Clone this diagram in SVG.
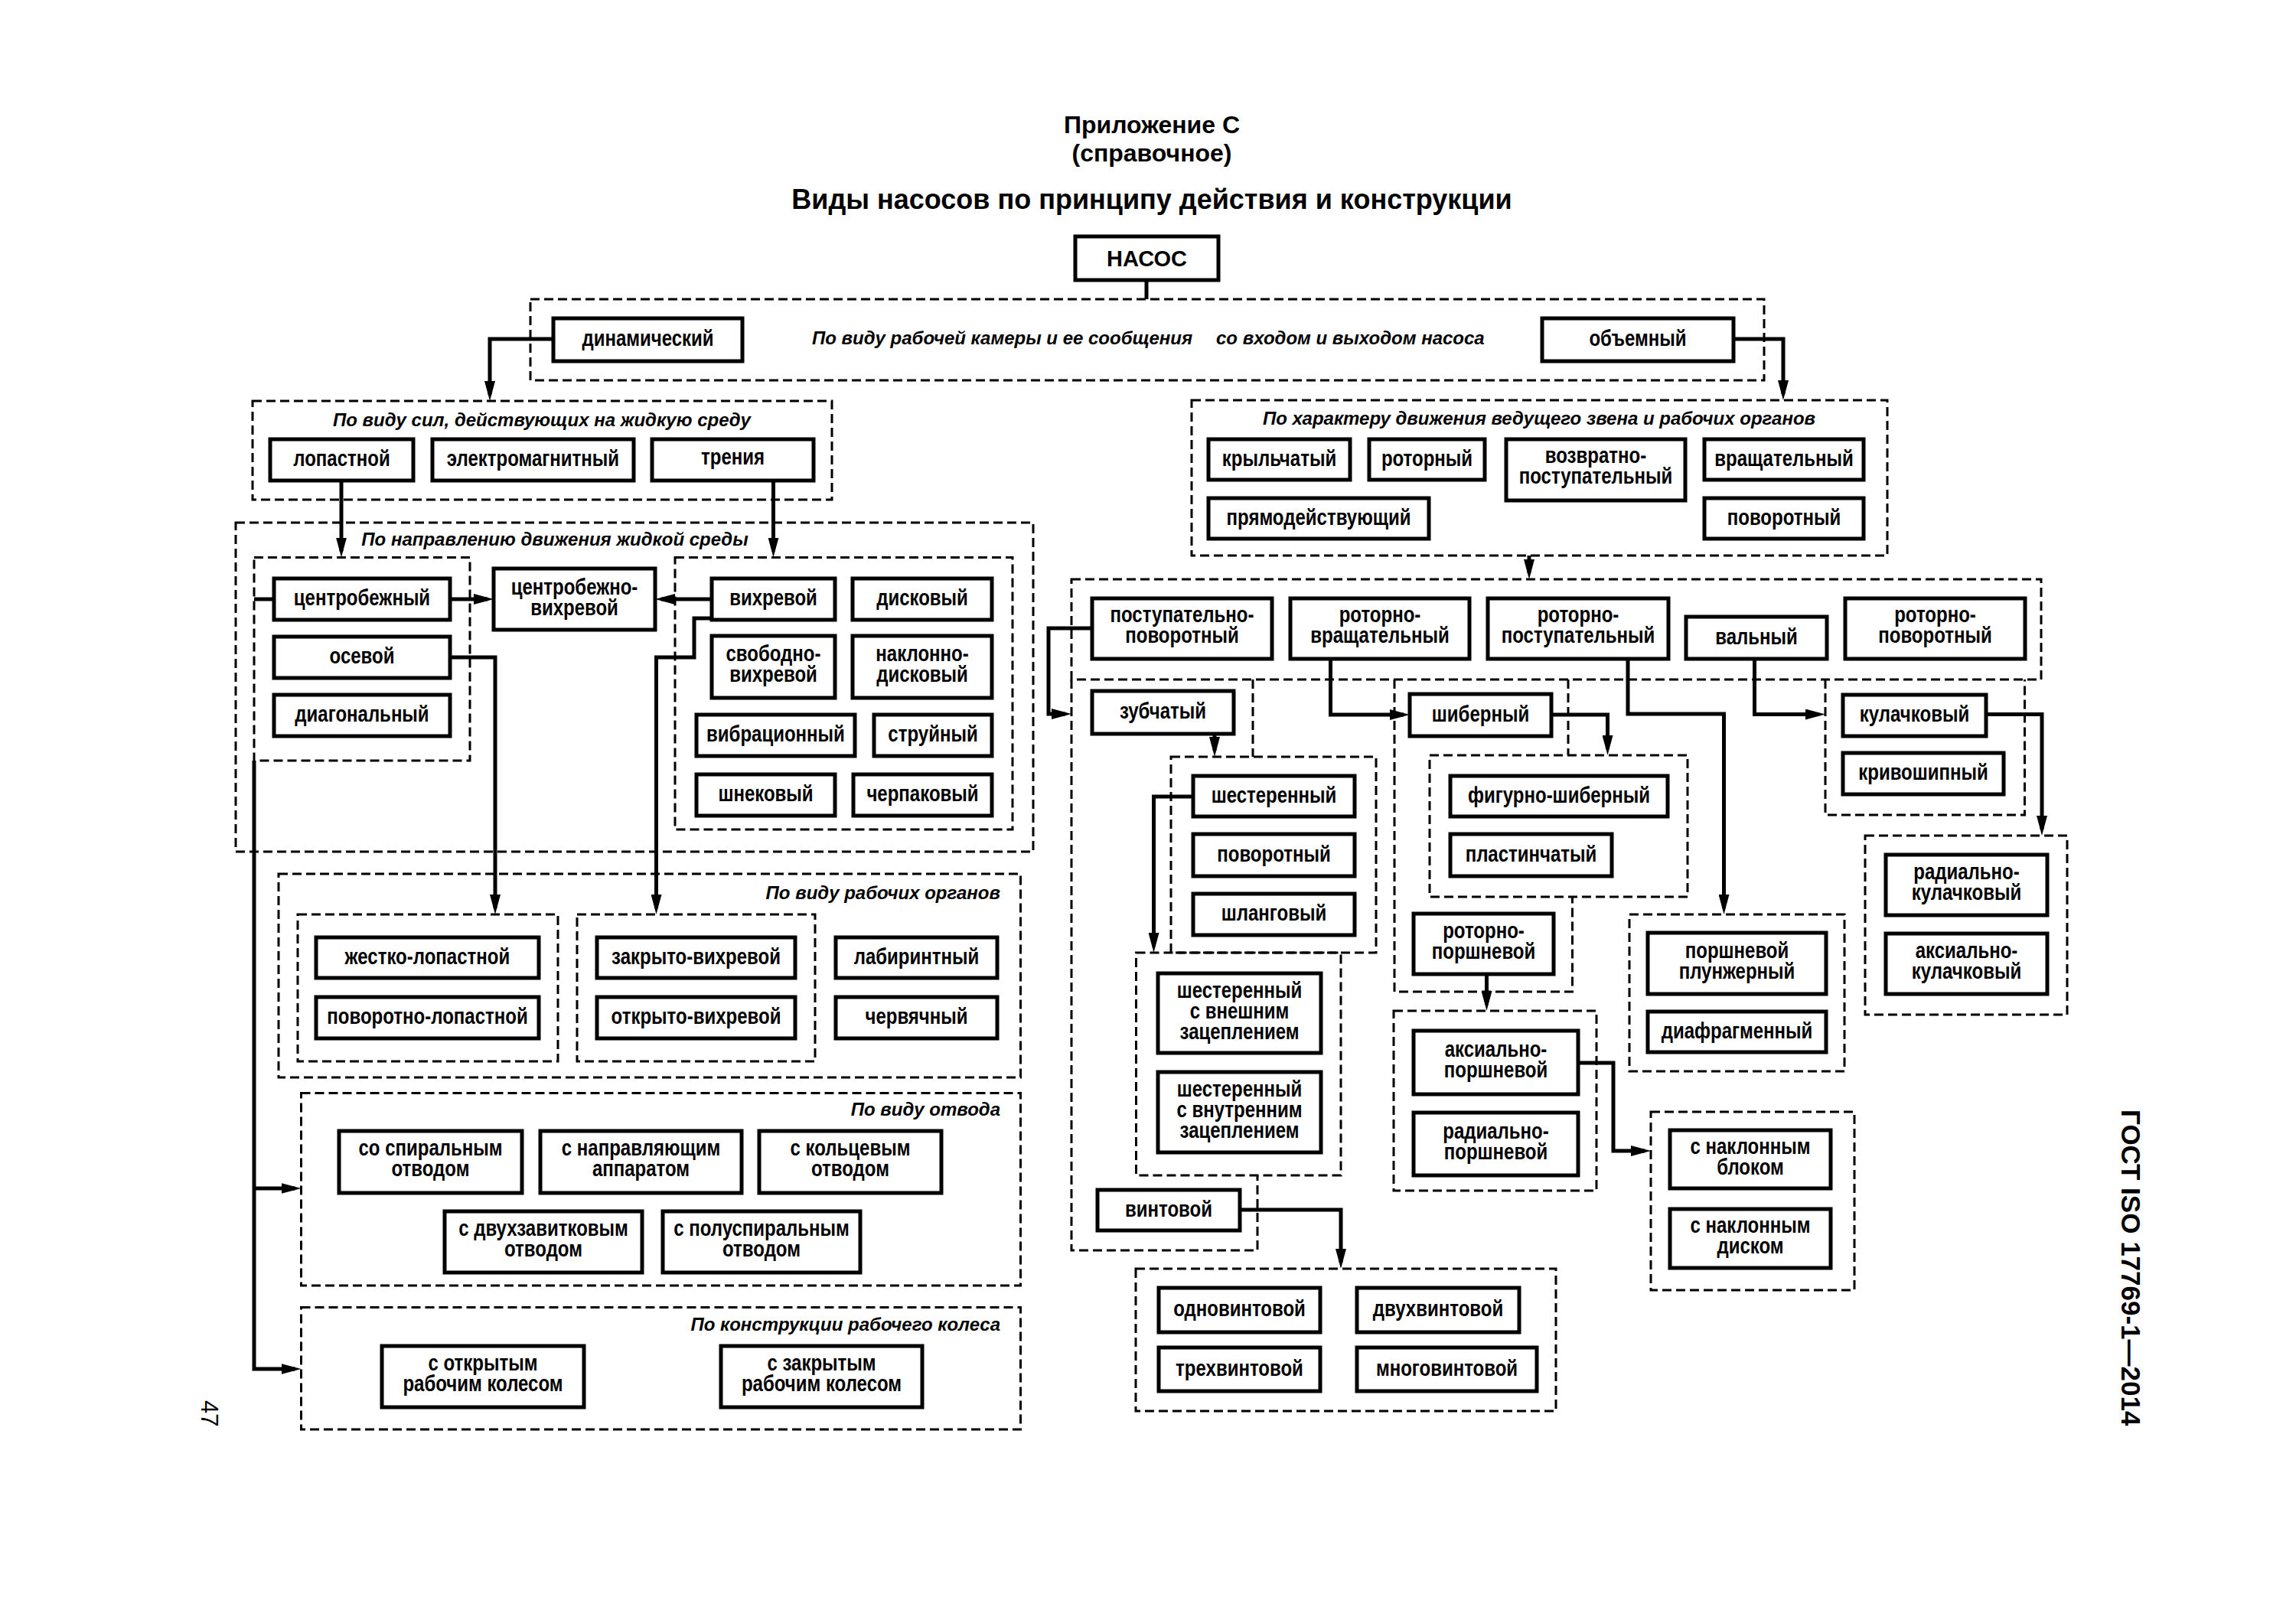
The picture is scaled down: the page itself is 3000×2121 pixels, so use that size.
<svg xmlns="http://www.w3.org/2000/svg" width="3000" height="2121" viewBox="0 0 3000 2121">
<defs>
<marker id="ah" markerUnits="userSpaceOnUse" markerWidth="26" markerHeight="14" refX="18" refY="7" orient="auto" viewBox="0 0 26 14"><path d="M0,0 L26,7 L0,14 z" fill="#000"/></marker>
<style>
.box{fill:#fff;stroke:#000;stroke-width:5}
.grp{fill:none;stroke:#000;stroke-width:3;stroke-dasharray:12 6}
.con{fill:none;stroke:#000;stroke-width:5}
.arr{marker-end:url(#ah)}
text{font-family:"Liberation Sans",Arial,Helvetica,sans-serif;font-weight:bold;fill:#000}
.t{font-size:29px;text-anchor:middle;transform:scaleX(0.828);transform-box:fill-box;transform-origin:center}
.nasos{font-size:29px;text-anchor:middle}
.lbl{font-size:24px;font-style:italic}
.mid{text-anchor:middle}
.end{text-anchor:end}
.ttl{text-anchor:middle}
.pg{font-size:31px;font-weight:normal}
</style>
</defs>
<rect width="3000" height="2121" fill="#fff"/>

<g id="titles">
<text class="ttl" x="1505" y="174" font-size="32">Приложение С</text>
<text class="ttl" x="1505" y="211" font-size="32">(справочное)</text>
<text class="ttl" x="1505" y="273" font-size="36">Виды насосов по принципу действия и конструкции</text>
<text transform="translate(2772,1450) rotate(90)" font-size="35">ГОСТ ISO 17769-1—2014</text>
<text class="pg" transform="translate(263,1830) rotate(90)">47</text>
</g>

<g id="groups">
<g id="g-kamera"><rect class="grp" x="693" y="391" width="1612" height="106"/>
<text class="lbl" x="1061" y="450">По виду рабочей камеры и ее сообщения</text>
<text class="lbl" x="1589" y="450">со входом и выходом насоса</text></g>
<g id="g-sily"><rect class="grp" x="330" y="524" width="757" height="129"/>
<text class="lbl mid" x="708" y="557">По виду сил, действующих на жидкую среду</text></g>
<g id="g-napr"><rect class="grp" x="308" y="683" width="1042" height="430"/>
<text class="lbl mid" x="725" y="713">По направлению движения жидкой среды</text></g>
<rect id="g-c1" class="grp" x="332" y="728.5" width="282" height="265.5"/>
<rect id="g-c2" class="grp" x="882" y="728.5" width="441" height="355.5"/>
<g id="g-organy"><rect class="grp" x="364" y="1142" width="969.5" height="266"/>
<text class="lbl end" x="1307" y="1175">По виду рабочих органов</text></g>
<rect id="g-e1" class="grp" x="389" y="1195" width="340" height="192"/>
<rect id="g-e2" class="grp" x="754" y="1195" width="311" height="192"/>
<g id="g-otvod"><rect class="grp" x="393.5" y="1428.5" width="940" height="251.5"/>
<text class="lbl end" x="1307" y="1458">По виду отвода</text></g>
<g id="g-koleso"><rect class="grp" x="393.5" y="1708.5" width="940" height="159.5"/>
<text class="lbl end" x="1307" y="1739">По конструкции рабочего колеса</text></g>
<g id="g-harakter"><rect class="grp" x="1557" y="523" width="909" height="203"/>
<text class="lbl mid" x="2011" y="555">По характеру движения ведущего звена и рабочих органов</text></g>
<rect id="g-j" class="grp" x="1400" y="757" width="1267" height="131"/>
<path id="g-k" class="grp" d="M1400,888 V1634 H1643 V1536 M1637,888 V989"/>
<rect id="g-l1" class="grp" x="1530" y="989" width="268" height="256"/>
<rect id="g-l2" class="grp" x="1484.5" y="1245" width="267.5" height="291"/>
<rect id="g-m" class="grp" x="1484" y="1658" width="549" height="186"/>
<path id="g-n" class="grp" d="M1822,888 V1296 H2054.5 V1172 M2049,888 V987"/>
<rect id="g-o" class="grp" x="1868" y="987" width="337" height="185"/>
<rect id="g-p" class="grp" x="1821" y="1321" width="265" height="235"/>
<rect id="g-q" class="grp" x="2157" y="1453" width="266" height="233"/>
<rect id="g-r" class="grp" x="2129" y="1195" width="281" height="205"/>
<path id="g-s" class="grp" d="M2385,888 V1065 H2645.5 V888"/>
<rect id="g-t" class="grp" x="2437" y="1092" width="264" height="234"/>
</g>

<g id="connectors">
<path class="con" d="M1498,366 V391"/>
<path class="con arr" d="M723,443 H640 V516"/>
<path class="con arr" d="M2265,443 H2330 V515"/>
<path class="con arr" d="M446,628 V720.5"/>
<path class="con arr" d="M1010.5,628 V720.5"/>
<path class="con arr" d="M588,783 H637"/>
<path class="con arr" d="M930,783 H864"/>
<path class="con" d="M358,783 H332"/>
<path class="con arr" d="M332,994 V1789 H385.5"/>
<path class="con arr" d="M332,1553 H385.5"/>
<path class="con arr" d="M588,859 H647 V1187"/>
<path class="con arr" d="M930,808 H907 V859 H857.5 V1187"/>
<path class="con arr" d="M1998,726 V749"/>
<path class="con arr" d="M1427,821 H1370 V933 H1392"/>
<path class="con arr" d="M1587,959 V981"/>
<path class="con arr" d="M1559,1041 H1507.5 V1237"/>
<path class="con arr" d="M1620,1581 H1752 V1650"/>
<path class="con arr" d="M1738.5,861 V934 H1834"/>
<path class="con arr" d="M2027,934 H2100.5 V979"/>
<path class="con arr" d="M1942.5,1273 V1313"/>
<path class="con arr" d="M2062,1389 H2108 V1504 H2149"/>
<path class="con arr" d="M2127,861 V933 H2252.5 V1187"/>
<path class="con arr" d="M2292.5,861 V933.5 H2377"/>
<path class="con arr" d="M2595,933.5 H2668 V1084"/>
</g>

<g id="nodes">
<g id="n-nasos"><rect class="box" x="1405" y="309" width="187" height="57"/><text class="nasos" x="1498.5" y="348">НАСОС</text></g>
<g id="n-dyn"><rect class="box" x="723" y="416" width="247" height="56"/><text class="t" x="846.5" y="452.5">динамический</text></g>
<g id="n-obem"><rect class="box" x="2015" y="416" width="250" height="56"/><text class="t" x="2140" y="452.5">объемный</text></g>

<g id="n-lopast"><rect class="box" x="353" y="574" width="187" height="54"/><text class="t" x="446.5" y="609.5">лопастной</text></g>
<g id="n-elmag"><rect class="box" x="565" y="574" width="263" height="54"/><text class="t" x="696.5" y="609.5">электромагнитный</text></g>
<g id="n-trenia"><rect class="box" x="852" y="574" width="211" height="54"/><text class="t" x="957.5" y="607">трения</text></g>

<g id="n-centrob"><rect class="box" x="358" y="756" width="230" height="54"/><text class="t" x="473" y="791.5">центробежный</text></g>
<g id="n-osevoy"><rect class="box" x="358" y="832" width="230" height="54"/><text class="t" x="473" y="867.5">осевой</text></g>
<g id="n-diag"><rect class="box" x="358" y="908" width="230" height="54"/><text class="t" x="473" y="943.5">диагональный</text></g>
<g id="n-cv"><rect class="box" x="645" y="743" width="211" height="80"/><text class="t" x="750.5" y="777">центробежно-</text><text class="t" x="750.5" y="804">вихревой</text></g>

<g id="n-vihr"><rect class="box" x="930" y="756" width="161" height="54"/><text class="t" x="1010.5" y="791.5">вихревой</text></g>
<g id="n-disk"><rect class="box" x="1114" y="756" width="182" height="54"/><text class="t" x="1205" y="791.5">дисковый</text></g>
<g id="n-svob"><rect class="box" x="930" y="831" width="161" height="81"/><text class="t" x="1010.5" y="864.5">свободно-</text><text class="t" x="1010.5" y="891.5">вихревой</text></g>
<g id="n-naklon"><rect class="box" x="1114" y="831" width="182" height="81"/><text class="t" x="1205" y="864.5">наклонно-</text><text class="t" x="1205" y="891.5">дисковый</text></g>
<g id="n-vibr"><rect class="box" x="910" y="934" width="207" height="54"/><text class="t" x="1013.5" y="969.5">вибрационный</text></g>
<g id="n-struy"><rect class="box" x="1142" y="934" width="154" height="54"/><text class="t" x="1219" y="969.5">струйный</text></g>
<g id="n-shnek"><rect class="box" x="910" y="1012" width="181" height="54"/><text class="t" x="1000.5" y="1047.5">шнековый</text></g>
<g id="n-cherp"><rect class="box" x="1115" y="1012" width="181" height="54"/><text class="t" x="1205.5" y="1047.5">черпаковый</text></g>

<g id="n-zhest"><rect class="box" x="413" y="1225" width="291" height="53"/><text class="t" x="558.5" y="1260">жестко-лопастной</text></g>
<g id="n-povlop"><rect class="box" x="413" y="1303" width="291" height="54"/><text class="t" x="558.5" y="1338.5">поворотно-лопастной</text></g>
<g id="n-zakr"><rect class="box" x="780" y="1225" width="259" height="53"/><text class="t" x="909.5" y="1260">закрыто-вихревой</text></g>
<g id="n-otkr"><rect class="box" x="780" y="1303" width="259" height="54"/><text class="t" x="909.5" y="1338.5">открыто-вихревой</text></g>
<g id="n-labir"><rect class="box" x="1092" y="1225" width="211" height="53"/><text class="t" x="1197.5" y="1260">лабиринтный</text></g>
<g id="n-cherv"><rect class="box" x="1092" y="1303" width="211" height="54"/><text class="t" x="1197.5" y="1338.5">червячный</text></g>

<g id="n-spir"><rect class="box" x="443" y="1478" width="239" height="81"/><text class="t" x="562.5" y="1510">со спиральным</text><text class="t" x="562.5" y="1537">отводом</text></g>
<g id="n-napr"><rect class="box" x="706" y="1478" width="263" height="81"/><text class="t" x="837.5" y="1510">с направляющим</text><text class="t" x="837.5" y="1537">аппаратом</text></g>
<g id="n-kolc"><rect class="box" x="992" y="1478" width="238" height="81"/><text class="t" x="1111" y="1510">с кольцевым</text><text class="t" x="1111" y="1537">отводом</text></g>
<g id="n-dvuh"><rect class="box" x="581" y="1583" width="258" height="80"/><text class="t" x="710" y="1615">с двухзавитковым</text><text class="t" x="710" y="1642">отводом</text></g>
<g id="n-polu"><rect class="box" x="866" y="1583" width="258" height="80"/><text class="t" x="995" y="1615">с полуспиральным</text><text class="t" x="995" y="1642">отводом</text></g>

<g id="n-otkrkol"><rect class="box" x="499" y="1759" width="264" height="80"/><text class="t" x="631" y="1791">с открытым</text><text class="t" x="631" y="1818">рабочим колесом</text></g>
<g id="n-zakrkol"><rect class="box" x="942" y="1759" width="263" height="80"/><text class="t" x="1073.5" y="1791">с закрытым</text><text class="t" x="1073.5" y="1818">рабочим колесом</text></g>

<g id="n-krylch"><rect class="box" x="1579" y="574" width="185" height="53"/><text class="t" x="1671.5" y="609">крыльчатый</text></g>
<g id="n-rotor"><rect class="box" x="1789" y="574" width="151" height="53"/><text class="t" x="1864.5" y="609">роторный</text></g>
<g id="n-vozvr"><rect class="box" x="1968" y="574" width="234" height="80"/><text class="t" x="2085" y="605">возвратно-</text><text class="t" x="2085" y="632">поступательный</text></g>
<g id="n-vrasch"><rect class="box" x="2227" y="574" width="208" height="53"/><text class="t" x="2331" y="609">вращательный</text></g>
<g id="n-pryamo"><rect class="box" x="1579" y="651" width="288" height="53"/><text class="t" x="1723" y="686">прямодействующий</text></g>
<g id="n-povor"><rect class="box" x="2227" y="651" width="208" height="53"/><text class="t" x="2331" y="686">поворотный</text></g>

<g id="n-postpov"><rect class="box" x="1427" y="782" width="235" height="79"/><text class="t" x="1544.5" y="813">поступательно-</text><text class="t" x="1544.5" y="840">поворотный</text></g>
<g id="n-rotvr"><rect class="box" x="1686" y="782" width="234" height="79"/><text class="t" x="1803" y="813">роторно-</text><text class="t" x="1803" y="840">вращательный</text></g>
<g id="n-rotpost"><rect class="box" x="1944" y="782" width="236" height="79"/><text class="t" x="2062" y="813">роторно-</text><text class="t" x="2062" y="840">поступательный</text></g>
<g id="n-valny"><rect class="box" x="2203" y="806" width="184" height="55"/><text class="t" x="2295" y="842">вальный</text></g>
<g id="n-rotpov"><rect class="box" x="2411" y="782" width="235" height="79"/><text class="t" x="2528.5" y="813">роторно-</text><text class="t" x="2528.5" y="840">поворотный</text></g>

<g id="n-zubch"><rect class="box" x="1427" y="903" width="185" height="56"/><text class="t" x="1519.5" y="939.5">зубчатый</text></g>
<g id="n-shest"><rect class="box" x="1559" y="1014" width="211" height="53"/><text class="t" x="1664.5" y="1049">шестеренный</text></g>
<g id="n-povor2"><rect class="box" x="1559" y="1090" width="211" height="55"/><text class="t" x="1664.5" y="1126">поворотный</text></g>
<g id="n-shlang"><rect class="box" x="1559" y="1168" width="211" height="54"/><text class="t" x="1664.5" y="1203.5">шланговый</text></g>
<g id="n-vnesh"><rect class="box" x="1513" y="1272" width="213" height="104"/><text class="t" x="1619.5" y="1304">шестеренный</text><text class="t" x="1619.5" y="1331">с внешним</text><text class="t" x="1619.5" y="1358">зацеплением</text></g>
<g id="n-vnutr"><rect class="box" x="1513" y="1401" width="213" height="105"/><text class="t" x="1619.5" y="1433.5">шестеренный</text><text class="t" x="1619.5" y="1460.5">с внутренним</text><text class="t" x="1619.5" y="1487.5">зацеплением</text></g>
<g id="n-vint"><rect class="box" x="1434" y="1555" width="186" height="53"/><text class="t" x="1527" y="1590">винтовой</text></g>
<g id="n-odno"><rect class="box" x="1514" y="1683" width="211" height="58"/><text class="t" x="1619.5" y="1720.5">одновинтовой</text></g>
<g id="n-dvuhv"><rect class="box" x="1773" y="1683" width="212" height="58"/><text class="t" x="1879" y="1720.5">двухвинтовой</text></g>
<g id="n-trehv"><rect class="box" x="1514" y="1761" width="211" height="57"/><text class="t" x="1619.5" y="1798">трехвинтовой</text></g>
<g id="n-mnogo"><rect class="box" x="1773" y="1761" width="235" height="57"/><text class="t" x="1890.5" y="1798">многовинтовой</text></g>

<g id="n-shiber"><rect class="box" x="1842" y="907" width="185" height="55"/><text class="t" x="1934.5" y="943">шиберный</text></g>
<g id="n-figur"><rect class="box" x="1895" y="1014" width="284" height="53"/><text class="t" x="2037" y="1049">фигурно-шиберный</text></g>
<g id="n-plast"><rect class="box" x="1895" y="1090" width="211" height="55"/><text class="t" x="2000.5" y="1126">пластинчатый</text></g>
<g id="n-rotporsh"><rect class="box" x="1847" y="1194" width="183" height="79"/><text class="t" x="1938.5" y="1226.5">роторно-</text><text class="t" x="1938.5" y="1253.5">поршневой</text></g>
<g id="n-aksporsh"><rect class="box" x="1847" y="1347" width="215" height="83"/><text class="t" x="1954.5" y="1381.5">аксиально-</text><text class="t" x="1954.5" y="1408.5">поршневой</text></g>
<g id="n-radporsh"><rect class="box" x="1847" y="1454" width="215" height="82"/><text class="t" x="1954.5" y="1488">радиально-</text><text class="t" x="1954.5" y="1515">поршневой</text></g>
<g id="n-blok"><rect class="box" x="2182" y="1477" width="210" height="76"/><text class="t" x="2287" y="1508">с наклонным</text><text class="t" x="2287" y="1535">блоком</text></g>
<g id="n-diskq"><rect class="box" x="2182" y="1580" width="210" height="77"/><text class="t" x="2287" y="1611.5">с наклонным</text><text class="t" x="2287" y="1638.5">диском</text></g>
<g id="n-plunzh"><rect class="box" x="2153" y="1219" width="233" height="80"/><text class="t" x="2269.5" y="1252">поршневой</text><text class="t" x="2269.5" y="1279">плунжерный</text></g>
<g id="n-diafr"><rect class="box" x="2153" y="1322" width="233" height="53"/><text class="t" x="2269.5" y="1357.5">диафрагменный</text></g>
<g id="n-kulach"><rect class="box" x="2408" y="908" width="187" height="54"/><text class="t" x="2501.5" y="943.5">кулачковый</text></g>
<g id="n-krivosh"><rect class="box" x="2408" y="984" width="210" height="54"/><text class="t" x="2513" y="1019.5">кривошипный</text></g>
<g id="n-radkul"><rect class="box" x="2464" y="1117" width="211" height="79"/><text class="t" x="2569.5" y="1149.5">радиально-</text><text class="t" x="2569.5" y="1176.5">кулачковый</text></g>
<g id="n-akskul"><rect class="box" x="2464" y="1220" width="211" height="79"/><text class="t" x="2569.5" y="1252.5">аксиально-</text><text class="t" x="2569.5" y="1279.5">кулачковый</text></g>
</g>
</svg>
